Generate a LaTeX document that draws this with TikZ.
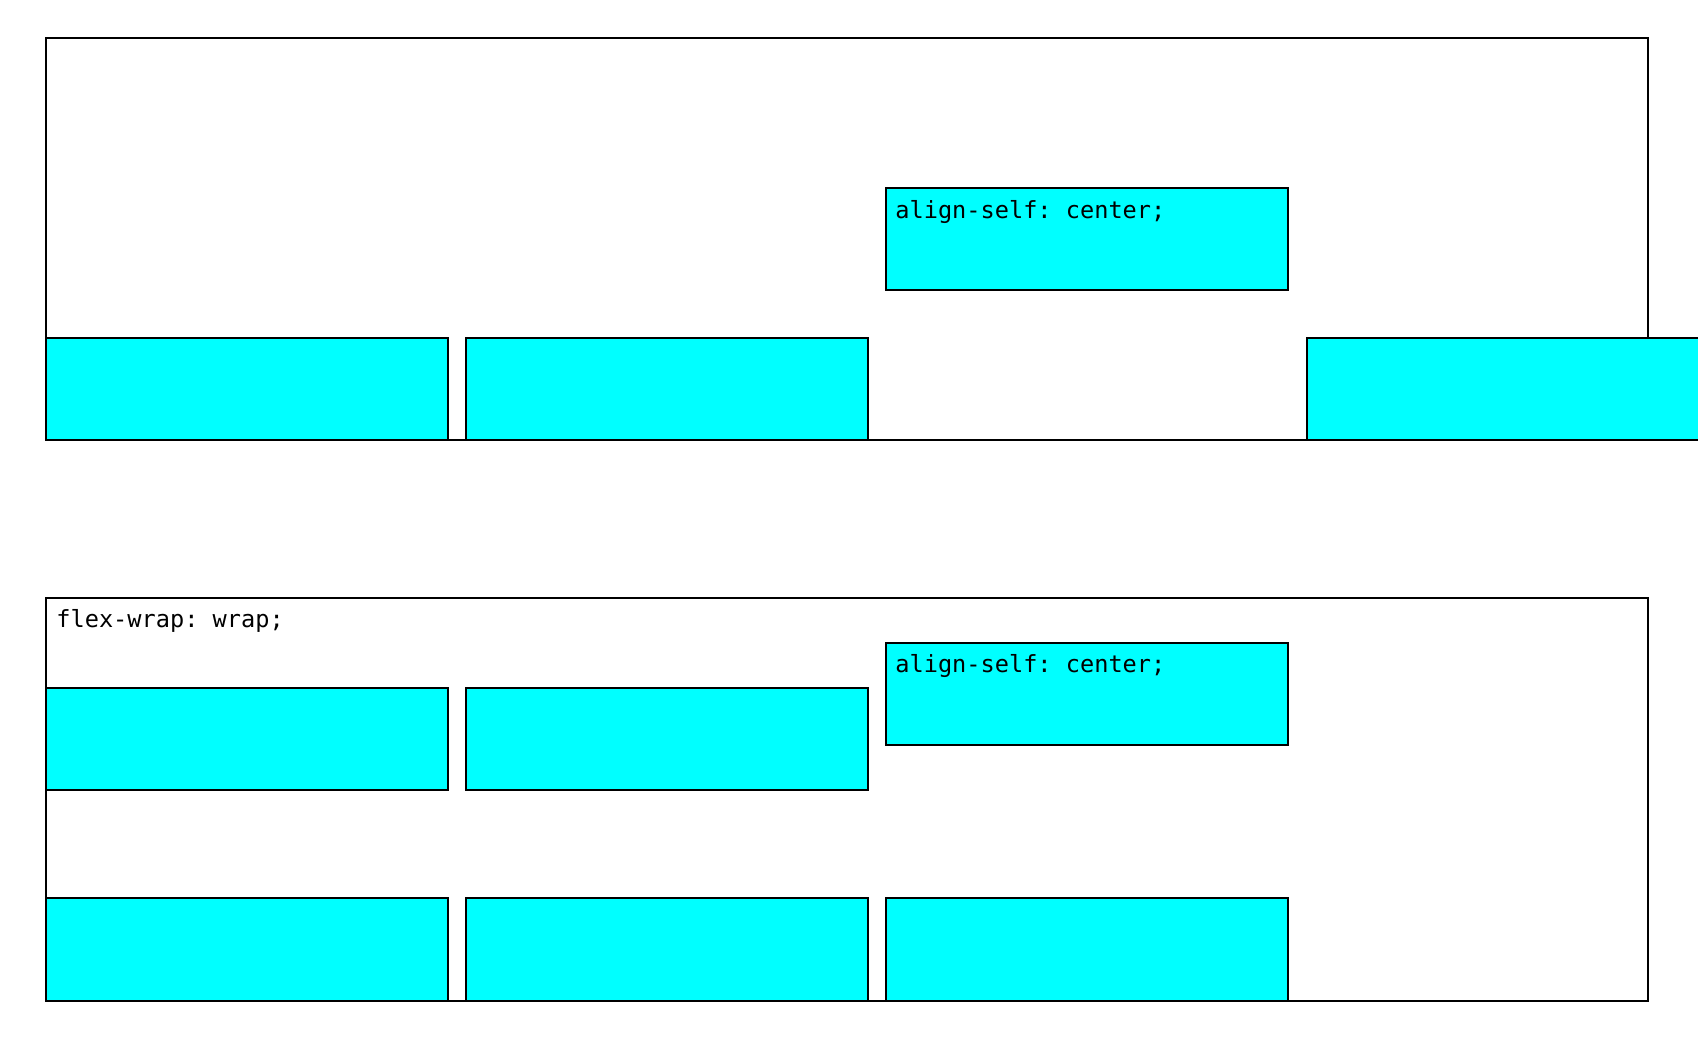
\documentclass[tikz,border=0pt]{standalone}
\usepackage{fontspec}
\setmonofont{DejaVu Sans Mono}
\usepackage{tikz}
\definecolor{flexcyan}{RGB}{0,255,255}

\begin{document}
\begin{tikzpicture}[x=0.5pt, y=-0.5pt,
    flexbox/.style={draw, line width=1pt, anchor=north west, inner sep=0pt, minimum width=801pt, minimum height=201pt},
    flexitem/.style={draw, line width=1pt, fill=flexcyan, anchor=north west, inner sep=0pt, minimum width=201pt, minimum height=51pt},
    code/.style={anchor=base west, inner sep=0pt, font=\ttfamily\fontsize{11.8}{14}\selectfont}]
    \useasboundingbox (0, 0) rectangle (1698, 1052);
    \clip (0, 0) rectangle (1698, 1052);
    % without wrap
    \node [flexbox] (nowrap) at (45, 37.5) {};
    \node [flexitem] (a1) at (45, 337.5) {};
    \node [flexitem] (a2) at (465, 337.5) {};
    \node [flexitem] (a3) at (885, 187.5) {};
    \node [flexitem] (a4) at (1305.5, 337.5) {};
    \node [code] (a3t) at ([shift={(10, 30.8)}]a3.north west) {align-self: center;};
    % with wrap
    \node [flexbox] (wrap) at (45, 597.5) {};
    \node [code] (wrapt) at ([shift={(11, 29.8)}]wrap.north west) {flex-wrap: wrap;};
    \node [flexitem] (b1) at (45, 687.5) {};
    \node [flexitem] (b2) at (465, 687.5) {};
    \node [flexitem] (b3) at (885, 642.5) {};
    \node [code] (b3t) at ([shift={(10, 30.2)}]b3.north west) {align-self: center;};
    \node [flexitem] (c1) at (45, 897.5) {};
    \node [flexitem] (c2) at (465, 897.5) {};
    \node [flexitem] (c3) at (885, 897.5) {};
\end{tikzpicture}
\end{document}
